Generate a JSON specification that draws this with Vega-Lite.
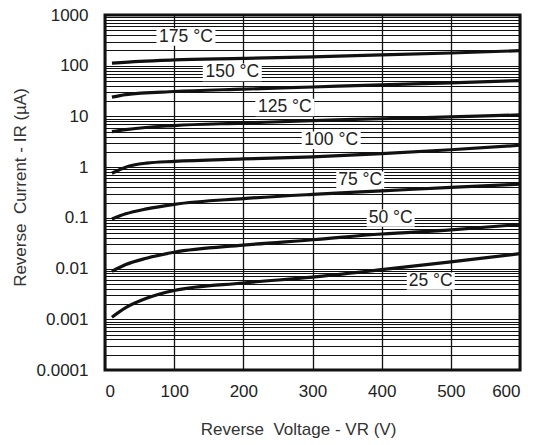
{
  "$schema": "https://vega.github.io/schema/vega-lite/v6.json",
  "autosize": {"type": "none"},
  "padding": {"left": 105, "top": 15, "right": 21, "bottom": 75},
  "width": 415,
  "height": 355,
  "background": "white",
  "config": {
    "view": {"stroke": "#111", "strokeWidth": 3},
    "axis": {
      "labelFont": "Liberation Sans",
      "labelFontSize": 17,
      "labelColor": "#222",
      "titleFont": "Liberation Sans",
      "titleFontSize": 17,
      "titleFontWeight": "normal",
      "titleColor": "#333",
      "ticks": false,
      "domain": false,
      "gridColor": "#111",
      "gridOpacity": 1
    }
  },
  "datasets": {
    "curves": [
      {"T": "175", "V": 10, "I": 112}, {"T": "175", "V": 50, "I": 122}, {"T": "175", "V": 100, "I": 130}, {"T": "175", "V": 200, "I": 139}, {"T": "175", "V": 300, "I": 150}, {"T": "175", "V": 400, "I": 163}, {"T": "175", "V": 500, "I": 178}, {"T": "175", "V": 600, "I": 198},
      {"T": "150", "V": 10, "I": 24}, {"T": "150", "V": 30, "I": 27}, {"T": "150", "V": 100, "I": 31}, {"T": "150", "V": 200, "I": 34.5}, {"T": "150", "V": 300, "I": 38}, {"T": "150", "V": 400, "I": 42}, {"T": "150", "V": 500, "I": 46}, {"T": "150", "V": 600, "I": 51},
      {"T": "125", "V": 10, "I": 5.0}, {"T": "125", "V": 30, "I": 5.5}, {"T": "125", "V": 100, "I": 6.6}, {"T": "125", "V": 200, "I": 7.4}, {"T": "125", "V": 300, "I": 8.3}, {"T": "125", "V": 400, "I": 9.0}, {"T": "125", "V": 500, "I": 9.8}, {"T": "125", "V": 600, "I": 10.7},
      {"T": "100", "V": 10, "I": 0.76}, {"T": "100", "V": 30, "I": 1.0}, {"T": "100", "V": 60, "I": 1.2}, {"T": "100", "V": 100, "I": 1.3}, {"T": "100", "V": 200, "I": 1.45}, {"T": "100", "V": 300, "I": 1.6}, {"T": "100", "V": 400, "I": 1.85}, {"T": "100", "V": 500, "I": 2.2}, {"T": "100", "V": 600, "I": 2.7},
      {"T": "75", "V": 10, "I": 0.095}, {"T": "75", "V": 30, "I": 0.12}, {"T": "75", "V": 60, "I": 0.15}, {"T": "75", "V": 100, "I": 0.185}, {"T": "75", "V": 200, "I": 0.24}, {"T": "75", "V": 300, "I": 0.29}, {"T": "75", "V": 400, "I": 0.34}, {"T": "75", "V": 500, "I": 0.40}, {"T": "75", "V": 600, "I": 0.46},
      {"T": "50", "V": 10, "I": 0.0088}, {"T": "50", "V": 30, "I": 0.012}, {"T": "50", "V": 60, "I": 0.016}, {"T": "50", "V": 100, "I": 0.021}, {"T": "50", "V": 200, "I": 0.029}, {"T": "50", "V": 300, "I": 0.037}, {"T": "50", "V": 400, "I": 0.048}, {"T": "50", "V": 500, "I": 0.058}, {"T": "50", "V": 600, "I": 0.074},
      {"T": "25", "V": 10, "I": 0.0011}, {"T": "25", "V": 30, "I": 0.0017}, {"T": "25", "V": 60, "I": 0.0026}, {"T": "25", "V": 100, "I": 0.0037}, {"T": "25", "V": 200, "I": 0.0052}, {"T": "25", "V": 300, "I": 0.0068}, {"T": "25", "V": 400, "I": 0.0095}, {"T": "25", "V": 500, "I": 0.0135}, {"T": "25", "V": 600, "I": 0.0197}
    ],
    "labels": [
      {"label": "175 °C", "V": 117, "I": 368},
      {"label": "150 °C", "V": 184, "I": 74},
      {"label": "125 °C", "V": 260, "I": 15},
      {"label": "100 °C", "V": 327, "I": 3.39},
      {"label": "75 °C", "V": 369, "I": 0.552},
      {"label": "50 °C", "V": 413, "I": 0.0986},
      {"label": "25 °C", "V": 471, "I": 0.00565}
    ]
  },
  "encoding": {
    "x": {
      "field": "V", "type": "quantitative",
      "scale": {"domain": [0, 600], "nice": false},
      "axis": {
        "values": [0, 100, 200, 300, 400, 500, 600],
        "grid": true, "gridWidth": 1.3,
        "labelPadding": 13,
        "title": "Reverse\u00a0 Voltage - VR (V)",
        "titlePadding": 22,
        "titleX": 193
      }
    },
    "y": {
      "field": "I", "type": "quantitative",
      "scale": {"type": "log", "domain": [0.0001, 1000], "nice": false},
      "axis": {
        "values": [0.0001, 0.0002, 0.0003, 0.0004, 0.0005, 0.0006, 0.0007, 0.0008, 0.0009,
                   0.001, 0.002, 0.003, 0.004, 0.005, 0.006, 0.007, 0.008, 0.009,
                   0.01, 0.02, 0.03, 0.04, 0.05, 0.06, 0.07, 0.08, 0.09,
                   0.1, 0.2, 0.3, 0.4, 0.5, 0.6, 0.7, 0.8, 0.9,
                   1, 2, 3, 4, 5, 6, 7, 8, 9,
                   10, 20, 30, 40, 50, 60, 70, 80, 90,
                   100, 200, 300, 400, 500, 600, 700, 800, 900, 1000],
        "labelExpr": "indexof([0.0001, 0.001, 0.01, 0.1, 1, 10, 100, 1000], datum.value) >= 0 ? format(datum.value, '~g') : ''",
        "labelOverlap": false,
        "labelPadding": 17,
        "grid": true, "gridWidth": 1,
        "title": "Reverse\u00a0 Current - IR (µA)",
        "titlePadding": 7,
        "titleY": 172
      }
    }
  },
  "layer": [
    {
      "data": {"name": "curves"},
      "mark": {"type": "line", "color": "#111", "strokeWidth": 3.2, "interpolate": "monotone"},
      "encoding": {"detail": {"field": "T"}}
    },
    {
      "data": {"name": "labels"},
      "transform": [{"filter": "length(datum.label) > 5"}],
      "mark": {"type": "point", "shape": "M-1,-0.3L1,-0.3L1,0.3L-1,0.3Z", "filled": true, "fill": "white", "opacity": 1, "strokeWidth": 0, "size": 3481}
    },
    {
      "data": {"name": "labels"},
      "transform": [{"filter": "length(datum.label) <= 5"}],
      "mark": {"type": "point", "shape": "M-1,-0.36L1,-0.36L1,0.36L-1,0.36Z", "filled": true, "fill": "white", "opacity": 1, "strokeWidth": 0, "size": 2304}
    },
    {
      "data": {"name": "labels"},
      "mark": {"type": "text", "font": "Liberation Sans", "fontSize": 17.5, "color": "#222", "align": "center", "baseline": "middle"},
      "encoding": {"text": {"field": "label"}}
    }
  ]
}
